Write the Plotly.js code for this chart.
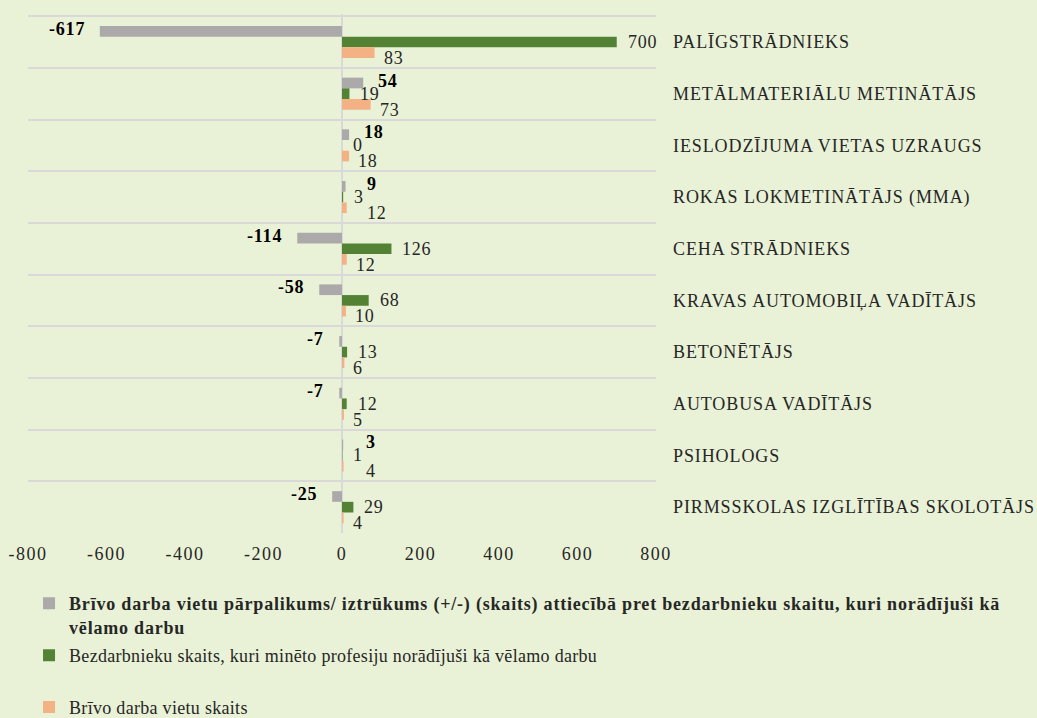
<!DOCTYPE html>
<html>
<head>
<meta charset="utf-8">
<script src="https://cdn.plot.ly/plotly-3.0.1.min.js"></script>
<style>
  html, body { margin: 0; padding: 0; background: #E9F2D6; }
  #chart { width: 1037px; height: 718px; }
  .ytick text { letter-spacing: 0.9px; }
  .xtick text { letter-spacing: 1.5px; }
  .legendtext { letter-spacing: 0.3px; }
  .legendtext tspan[style*="bold"] { letter-spacing: 0.8px; }
  .annotation-text { letter-spacing: 0.8px; }
</style>
</head>
<body>
<div id="chart"></div>
<script>
const categories = [
  "PALĪGSTRĀDNIEKS",
  "METĀLMATERIĀLU METINĀTĀJS",
  "IESLODZĪJUMA VIETAS UZRAUGS",
  "ROKAS LOKMETINĀTĀJS (MMA)",
  "CEHA STRĀDNIEKS",
  "KRAVAS AUTOMOBIĻA VADĪTĀJS",
  "BETONĒTĀJS",
  "AUTOBUSA VADĪTĀJS",
  "PSIHOLOGS",
  "PIRMSSKOLAS IZGLĪTĪBAS SKOLOTĀJS"
];
const surplusShortage = [-617, 54, 18, 9, -114, -58, -7, -7, 3, -25];
const unemployedWanting = [700, 19, 0, 3, 126, 68, 13, 12, 1, 29];
const vacancies = [83, 73, 18, 12, 12, 10, 6, 5, 4, 4];

const seriesNames = [
  "<b>Brīvo darba vietu pārpalikums/ iztrūkums (+/-) (skaits) attiecībā pret bezdarbnieku skaitu, kuri norādījuši kā</b><br><b>vēlamo darbu</b>",
  "Bezdarbnieku skaits, kuri minēto profesiju norādījuši kā vēlamo darbu<br> ",
  "Brīvo darba vietu skaits"
];
const seriesColors = ["#ABA9A9", "#548235", "#F4B183"];
const xTicks = [-800, -600, -400, -200, 0, 200, 400, 600, 800];

const serif = "Liberation Serif";
const W = 1037, H = 718;
const margin = { l: 28, r: 381, t: 14, b: 185, autoexpand: false };
const xRange = [-800, 800];

function barTrace(values, name, color, group) {
  return {
    type: "bar",
    orientation: "h",
    y: categories,
    x: values,
    name: name,
    legendgroup: group,
    marker: { color: color },
    textposition: "none",
    cliponaxis: false,
    hoverinfo: "x+y"
  };
}

const data = [
  barTrace(surplusShortage, seriesNames[0], seriesColors[0], "g1"),
  barTrace(unemployedWanting, seriesNames[1], seriesColors[1], "g2"),
  barTrace(vacancies, seriesNames[2], seriesColors[2], "g3")
];

// data labels anchored on each bar's value through the axes;
// labels of small bars are nudged right so they do not collide with the middle label
const pxPerUnit = (W - margin.l - margin.r) / (xRange[1] - xRange[0]);
const charW = 9.8;
const labelW = v => String(v).length * charW;
const labelStyle = [
  { bold: true,  color: "#000000", dy: 13,  dx: 13 },
  { bold: false, color: "#262626", dy: 0,   dx: 9 },
  { bold: false, color: "#262626", dy: -16, dx: 7 }
];
const annotations = [];
function addLabel(v, i, st, dx) {
  const neg = v < 0;
  annotations.push({
    xref: "x", yref: "y",
    x: v, y: categories[i],
    text: st.bold ? "<b>" + v + "</b>" : String(v),
    showarrow: false,
    xanchor: neg ? "right" : "left",
    yanchor: "middle",
    xshift: neg ? -dx : dx,
    yshift: st.dy,
    font: { family: serif, size: 18, color: st.color }
  });
}
categories.forEach((c, i) => {
  const g = unemployedWanting[i];
  const gLeft = g * pxPerUnit + labelStyle[1].dx;
  const gRight = gLeft + labelW(g);
  addLabel(g, i, labelStyle[1], labelStyle[1].dx);
  [[surplusShortage, 0, 2], [vacancies, 2, 6]].forEach(([vals, s, tol]) => {
    const v = vals[i];
    const st = labelStyle[s];
    let dx = st.dx;
    if (v >= 0) {
      const left = v * pxPerUnit + dx;
      const overlap = Math.min(left + labelW(v), gRight) - Math.max(left, gLeft);
      if (overlap > tol) dx = gRight + 3 - v * pxPerUnit;
    }
    addLabel(v, i, st, dx);
  });
});

const layout = {
  width: W,
  height: H,
  paper_bgcolor: "#E9F2D6",
  plot_bgcolor: "#E9F2D6",
  margin: margin,
  barmode: "group",
  bargap: 0.38,
  bargroupgap: 0,
  font: { family: serif, color: "#262626" },
  annotations: annotations,
  xaxis: {
    range: xRange,
    tickvals: xTicks,
    ticktext: xTicks.map(String),
    showgrid: false,
    zeroline: true,
    zerolinecolor: "#D9D9D9",
    zerolinewidth: 2,
    showline: false,
    ticks: "",
    ticklabelstandoff: 8,
    tickfont: { family: serif, size: 18, color: "#262626" },
    fixedrange: true
  },
  yaxis: {
    type: "category",
    autorange: "reversed",
    side: "right",
    tickson: "boundaries",
    showgrid: true,
    gridcolor: "#D9D9D9",
    gridwidth: 2,
    ticks: "",
    showline: false,
    ticklabelstandoff: 16,
    tickfont: { family: serif, size: 18, color: "#262626" },
    fixedrange: true
  },
  showlegend: true,
  legend: {
    orientation: "v",
    xref: "container",
    yref: "container",
    x: 0.028,
    xanchor: "left",
    y: 0.185,
    yanchor: "top",
    traceorder: "grouped",
    tracegroupgap: 2,
    valign: "top",
    itemwidth: 30,
    font: { family: serif, size: 18, color: "#262626" },
    bgcolor: "rgba(0,0,0,0)"
  }
};

Plotly.newPlot("chart", data, layout, { displayModeBar: false, staticPlot: true });
</script>
</body>
</html>
